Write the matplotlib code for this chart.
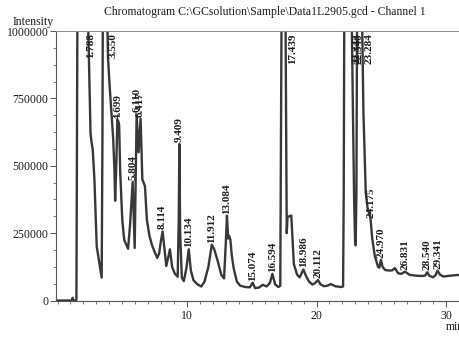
import numpy as np
import matplotlib
matplotlib.use("Agg")
import matplotlib.pyplot as plt
from matplotlib.ticker import MultipleLocator

# ---- data ----
times = [0.0, 1.02, 1.12, 1.17, 1.22, 1.46, 1.50, 1.54, 1.788, 2.30, 2.38, 2.55, 2.62, 2.72, 2.85,
         3.03, 3.28, 3.41, 3.47, 3.50, 3.55, 3.82, 3.90, 4.02, 4.30, 4.40, 4.45, 4.55, 4.62, 4.699,
         4.76, 4.84, 5.00, 5.15, 5.45, 5.60, 5.804, 5.96, 6.110, 6.26, 6.417, 6.55, 6.75, 6.90,
         7.10, 7.30, 7.50, 7.70, 7.85, 7.98, 8.114, 8.25, 8.40, 8.55, 8.68, 8.85, 9.05, 9.28, 9.36,
         9.409, 9.47, 9.60, 9.75, 9.95, 10.134, 10.30, 10.50, 10.80, 11.10, 11.35, 11.65, 11.912,
         12.10, 12.35, 12.65, 12.86, 12.98, 13.084, 13.18, 13.25, 13.35, 13.45, 13.60, 13.85,
         14.10, 14.50, 14.85, 15.074, 15.25, 15.55, 15.85, 16.15, 16.40, 16.594, 16.80, 17.05,
         17.20, 17.26, 17.30, 17.439, 17.60, 17.66, 17.70, 17.76, 18.05, 18.13, 18.25, 18.50,
         18.70, 18.986, 19.20, 19.42, 19.68, 19.90, 20.112, 20.30, 20.58, 20.85, 21.10, 21.45,
         21.90, 22.05, 22.10, 22.14, 22.343, 22.45, 22.540, 22.70, 22.80, 22.90, 22.98, 23.02,
         23.08, 23.13, 23.284, 23.50, 23.62, 23.80, 23.95, 24.10, 24.175, 24.30, 24.50, 24.75,
         24.85, 24.970, 25.10, 25.30, 25.65, 25.85, 26.05, 26.30, 26.55, 26.831, 27.20, 27.70,
         28.20, 28.40, 28.540, 28.70, 29.00, 29.20, 29.341, 29.55, 29.80, 30.30, 31.00]
intensity = [0, 0, 0, 10000, 0, 0, 600000, 1100000, 1600000, 1100000, 1000000, 620000, 590000,
             560000, 450000, 200000, 126000, 85000, 600000, 1100000, 1600000, 1100000, 900000,
             800000, 600000, 480000, 370000, 520000, 670000, 665000, 650000, 480000, 300000,
             225000, 192000, 280000, 440000, 195000, 690000, 550000, 675000, 450000, 425000,
             300000, 240000, 205000, 180000, 158000, 175000, 220000, 256000, 195000, 128000,
             160000, 190000, 125000, 100000, 88000, 300000, 580000, 250000, 85000, 72000, 120000,
             190000, 110000, 75000, 60000, 52000, 70000, 125000, 207000, 190000, 150000, 95000,
             82000, 200000, 315000, 230000, 240000, 225000, 170000, 120000, 70000, 55000, 50000,
             49000, 66000, 46000, 48000, 58000, 52000, 65000, 99000, 60000, 50000, 55000, 700000,
             1100000, 1600000, 1100000, 600000, 250000, 310000, 315000, 240000, 135000, 96000,
             86000, 115000, 90000, 70000, 59000, 65000, 76000, 60000, 53000, 55000, 61000, 53000,
             50000, 52000, 400000, 1100000, 1800000, 1400000, 1700000, 1100000, 700000, 380000,
             210000, 205000, 400000, 1100000, 1700000, 1100000, 700000, 400000, 340000, 320000,
             300000, 230000, 165000, 125000, 122000, 151000, 125000, 113000, 111000, 112000,
             120000, 101000, 99000, 107000, 95000, 92000, 91000, 93000, 105000, 92000, 86000,
             95000, 111000, 95000, 89000, 92000, 95000]

peak_times = [1.788, 3.550, 4.699, 5.804, 6.110, 6.417, 8.114, 9.409, 10.134, 11.912, 13.084,
              15.074, 16.594, 17.439, 18.986, 20.112, 22.343, 22.540, 23.284, 24.175, 24.970,
              26.831, 28.540, 29.341]
peak_labels = ["1.788", "3.550", "4.699", "5.804", "6.110", "6.417", "8.114", "9.409", "10.134",
               "11.912", "13.084", "15.074", "16.594", "17.439", "18.986", "20.112", "22.343",
               "22.540", "23.284", "24.175", "24.970", "26.831", "28.540", "29.341"]

y_ticks = [0, 250000, 500000, 750000, 1000000]
x_ticks = [10, 20, 30]
title = r"Chromatogram C:\GCsolution\Sample\Data1L2905.gcd - Channel 1"

# ---- figure ----
plt.rcParams['font.family'] = ['Liberation Serif', 'DejaVu Serif']
W, H = 459, 338
fig = plt.figure(figsize=(W / 100, H / 100), dpi=100)
ax = fig.add_axes([56 / W, 1 - 300.5 / H, (W - 56) / W, (300.5 - 31) / H])

ymax = 1000000
ax.plot(times, intensity, color='#383838', lw=1.7, solid_joinstyle='round', clip_on=True)
ax.set_xlim(-0.116, 31.0)
ax.set_ylim(0, ymax)

txtc = '#1e1e1e'
for t, lab in zip(peak_times, peak_labels):
    v = float(np.interp(t, times, intensity))
    if v >= ymax:
        ax.annotate(lab, xy=(t, ymax), xytext=(7, -1.5), textcoords='offset points',
                    rotation=90, ha='center', va='top', fontsize=8, color=txtc,
                    fontweight='bold')
    else:
        ax.annotate(lab, xy=(t, v), xytext=(0, 1.5), textcoords='offset points',
                    rotation=90, ha='center', va='bottom', fontsize=8, color=txtc,
                    fontweight='bold')

ax.set_xticks(x_ticks)
ax.set_xticklabels([str(v) for v in x_ticks])
ax.xaxis.set_minor_locator(MultipleLocator(1))
ax.set_yticks(y_ticks)
ax.set_yticklabels([str(v) for v in y_ticks])
ax.yaxis.set_minor_locator(MultipleLocator(62500))

ax.tick_params(axis='both', which='major', direction='out', length=4, width=0.7,
               colors='#555555', labelcolor=txtc, labelsize=8.5, pad=1.5)
ax.tick_params(axis='both', which='minor', direction='out', length=2, width=0.6,
               colors='#666666')
ax.tick_params(axis='x', which='major', pad=3)

for s in ['left', 'bottom']:
    ax.spines[s].set_color('#555555')
    ax.spines[s].set_linewidth(0.8)
ax.spines['top'].set_color('#8a8a8a')
ax.spines['top'].set_linewidth(0.7)
ax.spines['right'].set_visible(False)
ax.patch.set_alpha(0)

fig.text(265 / W, 1 - 12 / H, title, ha='center', va='center', fontsize=8.5, color='#222222')
fig.text(54 / W, 1 - 22 / H, "Intensity", ha='right', va='center', fontsize=8.5, color=txtc)
fig.text(446 / W, 1 - 327 / H, "min", ha='left', va='center', fontsize=8.5, color=txtc)

fig.savefig("out.png", dpi=100)
